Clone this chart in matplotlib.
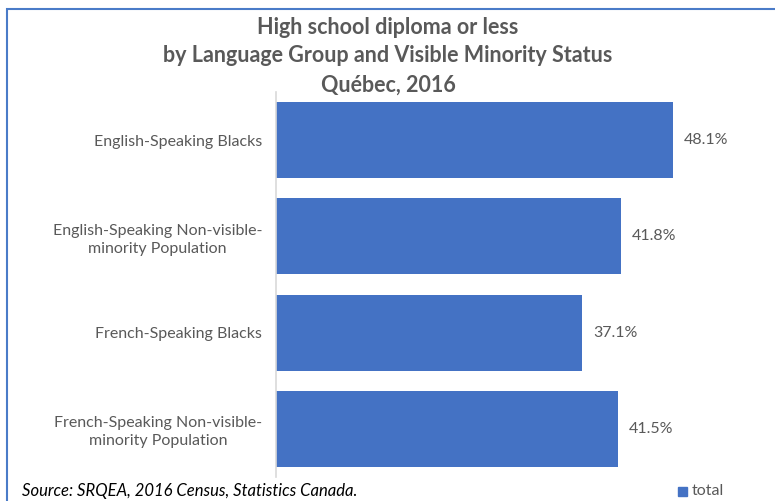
import matplotlib
matplotlib.use('Agg')
import matplotlib.pyplot as plt
from matplotlib.patches import Rectangle

# data
categories = ['English-Speaking Blacks',
              'English-Speaking Non-visible-\nminority Population',
              'French-Speaking Blacks',
              'French-Speaking Non-visible-\nminority Population']
values = [48.1, 41.8, 37.1, 41.5]
value_labels = ['48.1%', '41.8%', '37.1%', '41.5%']

bar_color = '#4472C4'
text_color = '#595959'
plt.rcParams['font.family'] = ['Lato', 'DejaVu Sans']

W, H = 775, 501
fig = plt.figure(figsize=(W / 100, H / 100), dpi=100)

# frame lines (top and left of the chart box)
fig.patches.append(Rectangle((7 / W, -0.1), 1.2, (H - 9) / H + 0.1, transform=fig.transFigure,
                             fill=False, edgecolor='#4A7BC8', linewidth=1.5))

ax = fig.add_axes([276 / W, (H - 477) / H, (771 - 276) / W, (477 - 92) / H])
y = list(range(len(categories)))
ax.barh(y, values, height=0.79, color=bar_color)
ax.set_ylim(len(categories) - 0.5, -0.5)
ax.set_xlim(0, 60)
ax.set_yticks(y)
ax.set_yticklabels(categories, fontsize=11.5, color=text_color, ha='right',
                   multialignment='center', linespacing=1.35)
ax.tick_params(axis='y', length=0, pad=10)
ax.set_xticks([])
for s in ['top', 'right', 'bottom']:
    ax.spines[s].set_visible(False)
ax.spines['left'].set_color('#D9D9D9')
ax.spines['left'].set_linewidth(1.2)

for yi, v, lab in zip(y, values, value_labels):
    ax.text(v + 1.3, yi, lab, va='center', ha='left', fontsize=11.5, color=text_color)

# title
title_lines = ['High school diploma or less',
               'by Language Group and Visible Minority Status',
               'Québec, 2016']
for i, line in enumerate(title_lines):
    fig.text(388 / W, 1 - (27 + i * 29) / H, line, ha='center', va='center',
             fontsize=15.5, fontweight='bold', color=text_color)

fig.text(22 / W, 1 - 491 / H, 'Source: SRQEA, 2016 Census, Statistics Canada.',
         ha='left', va='center', fontsize=12, style='italic', color='black')
fig.patches.append(Rectangle((678 / W, 1 - 496 / H), 9 / W, 9 / H, transform=fig.transFigure,
                             color=bar_color))
fig.text(692 / W, 1 - 491 / H, 'total', ha='left', va='center', fontsize=11.5, color=text_color)

fig.savefig('out.png', dpi=100)
